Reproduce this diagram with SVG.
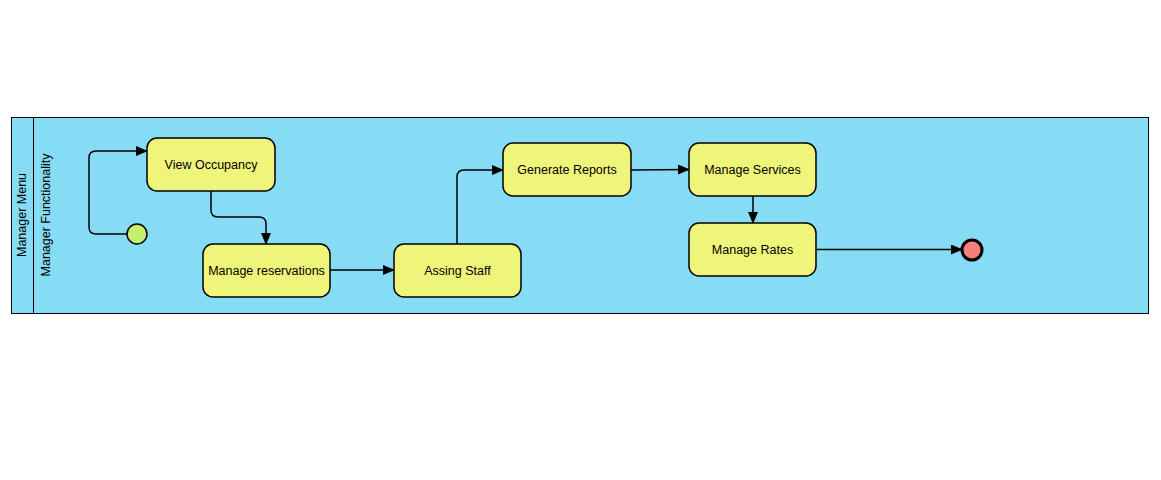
<svg xmlns="http://www.w3.org/2000/svg" width="1161" height="480" viewBox="0 0 1161 480">
<style>
.task{fill:#eff57a;stroke:#000;stroke-width:1.5}
.lbl{font-family:"Liberation Sans",Arial,sans-serif;font-size:12.5px;fill:#000;text-anchor:middle;dominant-baseline:central}
.edge{fill:none;stroke:#000;stroke-width:1.5}
</style>
<defs>
<marker id="arr" markerWidth="12" markerHeight="10" refX="11" refY="5" orient="auto" markerUnits="userSpaceOnUse">
<path d="M0,0 L12,5 L0,10 Z" fill="#000"/>
</marker>
</defs>
<rect width="1161" height="480" fill="#fff"/>
<g id="pool">
<rect x="11.5" y="117.5" width="1137" height="196" fill="#86dcf5" stroke="#000" stroke-width="1"/>
<line x1="33.5" y1="117.5" x2="33.5" y2="313.5" stroke="#000" stroke-width="1"/>
<text class="lbl" transform="translate(22,215) rotate(-90)">Manager Menu</text>
<text class="lbl" transform="translate(46,215) rotate(-90)">Manager Functionality</text>
</g>
<g id="connectors">
<path class="edge" d="M127,234 H96 Q89,234 89,227 V158 Q89,151 96,151 H147" marker-end="url(#arr)"/>
<path class="edge" d="M211,191 V210 Q211,217 218,217 H259 Q266,217 266,224 V244" marker-end="url(#arr)"/>
<path class="edge" d="M330,270 H394" marker-end="url(#arr)"/>
<path class="edge" d="M457,244 V177 Q457,170 464,170 H503" marker-end="url(#arr)"/>
<path class="edge" d="M631,170 L689,169.5" marker-end="url(#arr)"/>
<path class="edge" d="M753,196 V223" marker-end="url(#arr)"/>
<path class="edge" d="M816,249.5 H962" marker-end="url(#arr)"/>
</g>
<g id="start"><circle cx="137" cy="234" r="10" fill="#c5ef6e" stroke="#000" stroke-width="1.5"/></g>
<g id="viewOccupancy"><rect class="task" x="147" y="138" width="128" height="53" rx="10"/><text class="lbl" x="211" y="164.5">View Occupancy</text></g>
<g id="manageReservations"><rect class="task" x="203" y="244" width="127" height="53" rx="10"/><text class="lbl" x="266.5" y="270.5">Manage reservations</text></g>
<g id="assingStaff"><rect class="task" x="394" y="244" width="127" height="53" rx="10"/><text class="lbl" x="457.5" y="270.5">Assing Staff</text></g>
<g id="generateReports"><rect class="task" x="503" y="143" width="128" height="53" rx="10"/><text class="lbl" x="567" y="169.5">Generate Reports</text></g>
<g id="manageServices"><rect class="task" x="689" y="143" width="127" height="53" rx="10"/><text class="lbl" x="752.5" y="169.5">Manage Services</text></g>
<g id="manageRates"><rect class="task" x="689" y="223" width="127" height="53" rx="10"/><text class="lbl" x="752.5" y="249.5">Manage Rates</text></g>
<g id="end"><circle cx="972" cy="250" r="10" fill="#f47f7f" stroke="#000" stroke-width="3"/></g>
</svg>
